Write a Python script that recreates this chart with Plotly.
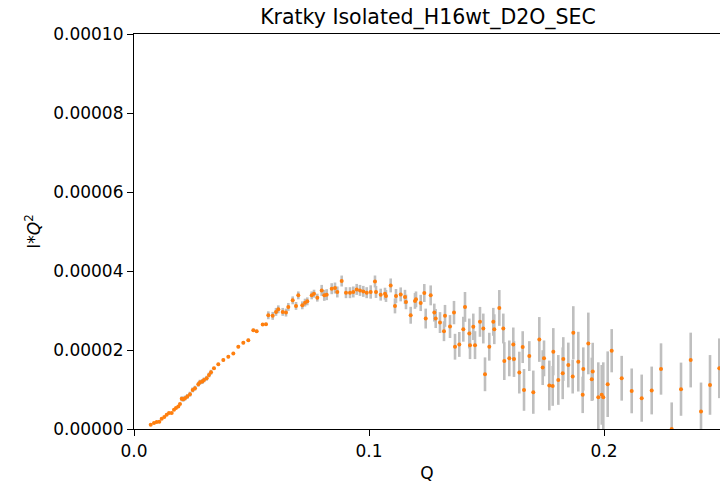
import plotly.graph_objects as go

# Kratky plot data: Q, I*Q^2 (in units of 1e-5) and the 1-sigma error on I*Q^2 (same units)
SCALE = 1e-5

q = [
    0.00711, 0.00851, 0.00966, 0.01077, 0.01179, 0.01289, 0.01391, 0.01489, 0.01604, 0.01702,
    0.01787, 0.01885, 0.01957, 0.02030, 0.02098, 0.02170, 0.02268, 0.02383, 0.02498, 0.02596,
    0.02736, 0.02809, 0.02906, 0.02979, 0.03094, 0.03191, 0.03277, 0.03404, 0.03587, 0.03800,
    0.04013, 0.04226, 0.04438, 0.04651, 0.04864, 0.05077, 0.05221, 0.05477, 0.05617, 0.05715,
    0.05902, 0.06043, 0.06140, 0.06328, 0.06468, 0.06566, 0.06753, 0.06894, 0.06991, 0.07162,
    0.07277, 0.07374, 0.07562, 0.07660, 0.07800, 0.07987, 0.08098, 0.08200, 0.08413, 0.08553,
    0.08651, 0.08838, 0.09021, 0.09191, 0.09332, 0.09477, 0.09617, 0.09757, 0.09902,
    0.10072, 0.10255, 0.10298, 0.10498, 0.10681, 0.10723, 0.10923, 0.11106, 0.11149, 0.11349,
    0.11532, 0.11574, 0.11774, 0.11957, 0.12000, 0.12200, 0.12353, 0.12413, 0.12626, 0.12779,
    0.12838, 0.13021, 0.13191, 0.13234, 0.13447, 0.13617, 0.13660, 0.13843, 0.14013, 0.14085,
    0.14268, 0.14298, 0.14438, 0.14511, 0.14723, 0.14864, 0.14936, 0.15119, 0.15289, 0.15332,
    0.15545, 0.15715, 0.15757, 0.15970, 0.16140, 0.16170, 0.16396, 0.16540, 0.16596, 0.16821,
    0.16991, 0.17247, 0.17391, 0.17447, 0.17672, 0.17817, 0.17843, 0.18055, 0.18243, 0.18268,
    0.18481, 0.18668, 0.18694, 0.18906, 0.19094, 0.19119, 0.19332, 0.19480, 0.19520, 0.19757,
    0.19902, 0.19970, 0.20157, 0.20328, 0.20753, 0.21179, 0.21604, 0.22030, 0.22426, 0.22881,
    0.23277, 0.23689, 0.24128, 0.24511, 0.24906,
]

iq2 = [
    0.108, 0.151, 0.176, 0.184, 0.259, 0.302, 0.360, 0.403, 0.403, 0.486,
    0.529, 0.572, 0.630, 0.763, 0.756, 0.781, 0.824, 0.882, 0.990, 1.033,
    1.134, 1.184, 1.202, 1.242, 1.285, 1.368, 1.436, 1.537, 1.637, 1.746,
    1.831, 1.914, 2.083, 2.184, 2.249, 2.501, 2.476, 2.645, 2.652, 2.879,
    2.864, 2.965, 3.030, 2.965, 2.947, 3.091, 3.257, 3.116, 3.383, 3.131,
    3.199, 3.232, 3.383, 3.426, 3.325, 3.509, 3.383, 3.401, 3.552, 3.569,
    3.469, 3.746, 3.451, 3.451, 3.469, 3.534, 3.509, 3.484, 3.451,
    3.469, 3.735, 3.469, 3.401, 3.426, 3.368, 3.635, 3.116, 3.368, 3.408,
    3.343, 3.217, 2.879, 3.242, 3.282, 3.191, 3.443, 2.796, 3.383, 2.947,
    2.796, 2.695, 2.476, 2.864, 2.594, 2.947, 2.083, 2.141, 2.526, 3.091,
    2.418, 2.123, 2.587, 2.123, 2.713, 2.544, 1.385, 2.083, 2.713, 2.526,
    3.065, 2.544, 1.720, 1.788, 2.141, 1.771, 1.428, 2.073, 0.990, 1.846,
    0.932, 2.267, 1.554, 1.788, 1.101, 1.091, 1.957, 1.242, 1.411, 1.771,
    1.620, 1.327, 2.436, 1.705, 0.864, 1.519, 2.166, 1.259, 1.453, 0.806,
    0.864, 0.806, 1.134, 1.982, 1.285, 0.965, 0.781, 0.975, 1.519, 0.000,
    1.008, 1.746, 0.446, 1.116, 1.537,
]

iq2_err = [
    0.020, 0.020, 0.020, 0.020, 0.020, 0.020, 0.020, 0.020, 0.020, 0.020,
    0.020, 0.020, 0.020, 0.063, 0.063, 0.063, 0.063, 0.063, 0.063, 0.063,
    0.063, 0.063, 0.063, 0.063, 0.063, 0.063, 0.063, 0.038, 0.038, 0.038,
    0.038, 0.038, 0.038, 0.038, 0.038, 0.038, 0.038, 0.038, 0.038, 0.100,
    0.100, 0.100, 0.100, 0.100, 0.100, 0.100, 0.100, 0.100, 0.100, 0.100,
    0.100, 0.100, 0.100, 0.100, 0.100, 0.139, 0.139, 0.139, 0.139, 0.139,
    0.139, 0.139, 0.139, 0.139, 0.139, 0.139, 0.139, 0.139, 0.139,
    0.169, 0.151, 0.151, 0.151, 0.151, 0.151, 0.176, 0.189, 0.176, 0.176,
    0.180, 0.185, 0.214, 0.200, 0.200, 0.205, 0.227, 0.252, 0.252, 0.227,
    0.240, 0.264, 0.252, 0.277, 0.290, 0.295, 0.327, 0.315, 0.315, 0.378,
    0.378, 0.353, 0.335, 0.353, 0.378, 0.378, 0.428, 0.353, 0.353, 0.378,
    0.453, 0.378, 0.479, 0.453, 0.428, 0.453, 0.529, 0.403, 0.529, 0.378,
    0.547, 0.567, 0.441, 0.453, 0.630, 0.504, 0.597, 0.630, 0.655, 0.554,
    0.567, 0.428, 0.673, 0.756, 0.461, 0.547, 0.781, 0.547, 0.730, 0.882,
    0.756, 0.882, 0.831, 0.547, 0.567, 0.567, 0.597, 0.605, 0.650, 0.673,
    0.673, 0.693, 0.730, 0.756, 0.756,
]

y_vals = [v * SCALE for v in iq2]
y_errs = [e * SCALE for e in iq2_err]

x_ticks = [0.0, 0.1, 0.2]
y_ticks = [0.0, 2e-5, 4e-5, 6e-5, 8e-5, 1e-4]

FONT = "DejaVu Sans"

fig = go.Figure()
fig.add_trace(go.Scatter(
    x=q,
    y=y_vals,
    mode="markers",
    marker=dict(color="#ff7f0e", size=4, line=dict(width=0)),
    error_y=dict(type="data", array=y_errs, visible=True,
                 color="#bfbfbf", thickness=2.6, width=0),
    showlegend=False,
))

axis_common = dict(
    showgrid=False,
    zeroline=False,
    showline=True,
    linecolor="black",
    linewidth=1.2,
    ticks="outside",
    ticklen=6,
    tickwidth=1.2,
    tickcolor="black",
    tickfont=dict(family=FONT, size=17, color="black"),
)

fig.update_layout(
    width=720,
    height=483,
    margin=dict(l=134, r=0, t=34, b=52),
    paper_bgcolor="white",
    plot_bgcolor="white",
    font=dict(family=FONT, color="black"),
    title=dict(
        text="Kratky Isolated_H16wt_D2O_SEC",
        x=428 / 720,
        xanchor="center",
        xref="container",
        y=1 - 17 / 483,
        yanchor="middle",
        yref="container",
        font=dict(family=FONT, size=20.5, color="black"),
    ),
    xaxis=dict(
        **axis_common,
        range=[0, 0.24936],
        tickvals=x_ticks,
        ticktext=[f"{t:.1f}" for t in x_ticks],
        mirror=True,
        title=dict(text="Q", font=dict(family=FONT, size=17), standoff=11),
    ),
    yaxis=dict(
        **axis_common,
        range=[0, 1e-4],
        tickvals=y_ticks,
        ticktext=[f"{t:.5f}" for t in y_ticks],
        title=dict(text="I*<i>Q</i><sup>2</sup>", font=dict(family=FONT, size=17), standoff=8),
    ),
)

fig.write_html("out.html")
